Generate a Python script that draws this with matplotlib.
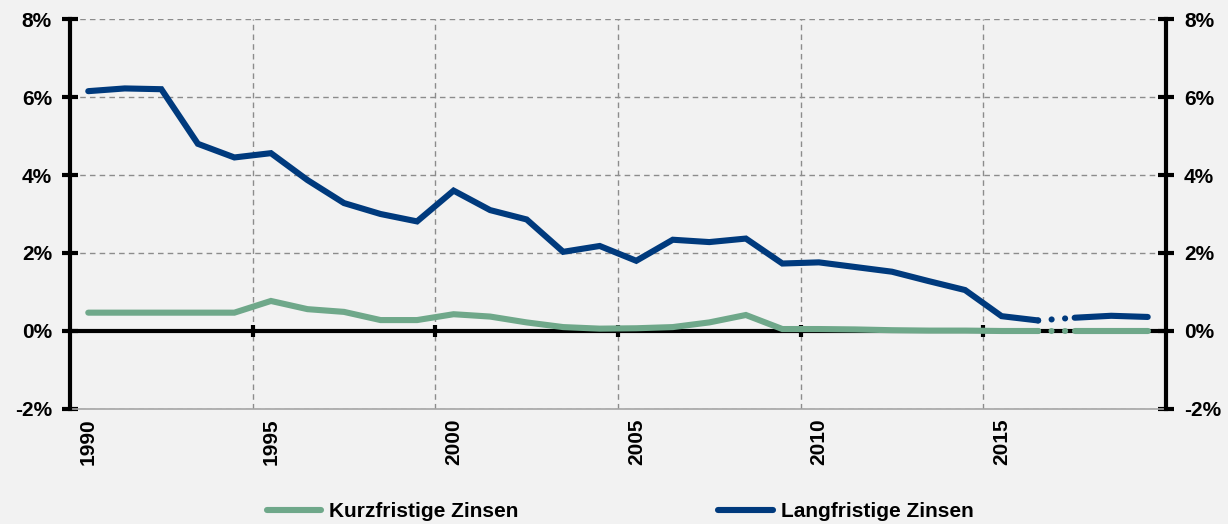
import matplotlib.pyplot as plt
from matplotlib.ticker import FuncFormatter

# Jahre und Zinssaetze (in %)
years = list(range(1990, 2020))
kurz = [0.47, 0.47, 0.47, 0.47, 0.47, 0.77, 0.56, 0.49, 0.28, 0.28,
        0.43, 0.37, 0.22, 0.10, 0.06, 0.07, 0.10, 0.22, 0.41, 0.05,
        0.05, 0.04, 0.02, 0.01, 0.01, 0.0, 0.0, 0.0, 0.0, 0.0]
lang = [6.15, 6.22, 6.20, 4.80, 4.45, 4.56, 3.87, 3.28, 3.00, 2.81,
        3.60, 3.10, 2.86, 2.03, 2.18, 1.80, 2.34, 2.28, 2.37, 1.73,
        1.76, 1.64, 1.52, 1.28, 1.05, 0.38, 0.27, 0.34, 0.39, 0.36]
gap_year = 2016  # Luecke 2016 -> 2017 gepunktet

label_years = [1990, 1995, 2000, 2005, 2010, 2015]
y_ticks = [-2, 0, 2, 4, 6, 8]

green = '#6fa88a'
blue = '#003a7d'
bg = '#f2f2f2'

plt.rcParams['font.family'] = ['Liberation Sans', 'DejaVu Sans']
plt.rcParams['font.weight'] = 'bold'

fig = plt.figure(figsize=(12.28, 5.24), dpi=100, facecolor=bg)
ax = fig.add_axes([0.057, 0.2195, 0.8925, 0.7442], facecolor=bg)

i = years.index(gap_year)
lw = 4.4
for vals, col, lab in [(kurz, green, 'Kurzfristige Zinsen'), (lang, blue, 'Langfristige Zinsen')]:
    ax.plot(years[:i + 1], vals[:i + 1], color=col, lw=lw, solid_capstyle='round',
            solid_joinstyle='miter', label=lab, zorder=4)
    ax.plot(years[i:i + 2], vals[i:i + 2], color=col, lw=lw, linestyle=(0, (0.01, 2.2)),
            dash_capstyle='round', zorder=4)
    ax.plot(years[i + 1:], vals[i + 1:], color=col, lw=lw, solid_capstyle='round',
            solid_joinstyle='miter', zorder=4)

ax.set_xlim(years[0] - 0.5, years[-1] + 0.5)
ax.set_ylim(-2, 8)

# x: labels at years, marks and grid at category boundaries
ax.set_xticks(label_years)
ax.set_xticks([y - 0.5 for y in label_years[1:]], minor=True)
ax.tick_params(axis='x', which='major', length=0, pad=7, labelsize=15, labelrotation=90)
ax.tick_params(axis='x', which='minor', bottom=False, top=True, direction='inout',
               length=8, width=3, color='black')
ax.grid(axis='x', which='minor', color='#8c8c8c', linestyle=(0, (4, 3)), lw=1)

ax.set_yticks(y_ticks)
ax.yaxis.set_major_formatter(FuncFormatter(lambda v, p: f'{v:.0f}%'))
ax.tick_params(axis='y', left=True, right=True, labelleft=True, labelright=True,
               direction='inout', length=12, width=3, labelsize=15, pad=7)
ax.grid(axis='y', which='major', color='#8c8c8c', linestyle=(0, (4, 3)), lw=1)
ax.set_axisbelow(True)

for s in ['left', 'right']:
    ax.spines[s].set_linewidth(3)
    ax.spines[s].set_zorder(5)
ax.spines['top'].set_position(('data', 0))
ax.spines['top'].set_linewidth(3)
ax.spines['top'].set_zorder(3)
ax.spines['bottom'].set_color('#a6a6a6')
ax.spines['bottom'].set_linewidth(1.2)

for t in ax.get_xticklabels() + ax.get_yticklabels():
    t.set_fontweight('bold')

fig.legend(loc='lower center', bbox_to_anchor=(0.505, -0.03), ncol=2, frameon=False,
           fontsize=15, handlelength=2.6, handletextpad=0.4, columnspacing=9.6)

fig.savefig('out.png', dpi=100, facecolor=bg)
